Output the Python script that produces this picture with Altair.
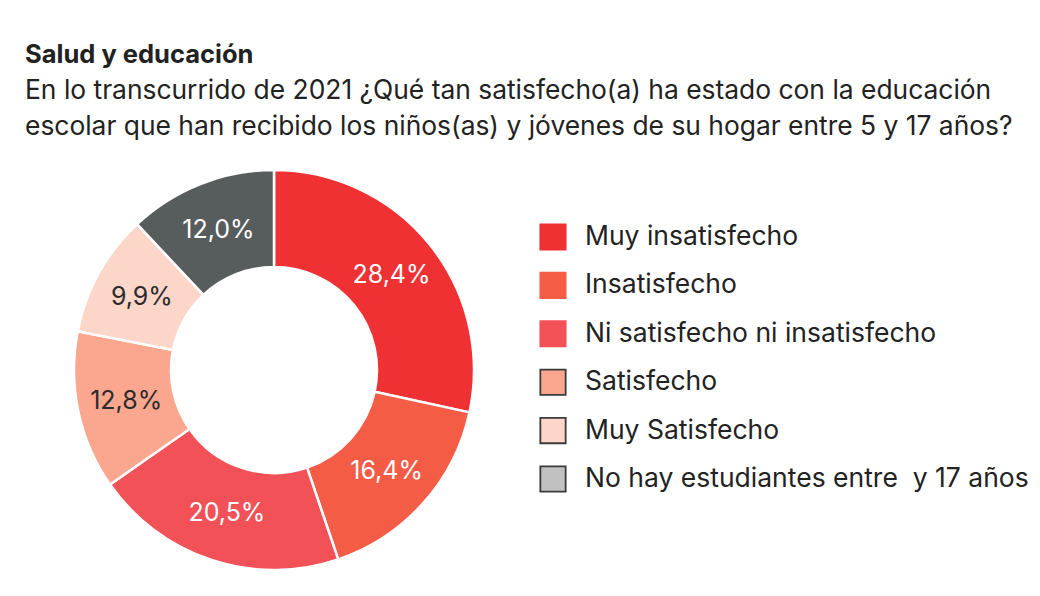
import altair as alt
import pandas as pd

categories = ["Muy insatisfecho", "Insatisfecho", "Ni satisfecho ni insatisfecho",
              "Satisfecho", "Muy Satisfecho", "No hay estudiantes entre  y 17 años"]
values = [28.4, 16.4, 20.5, 12.8, 9.9, 12.0]
slice_colors = ["#F03133", "#F45C46", "#F25157", "#FBA790", "#FDD6CA", "#575C5D"]
legend_colors = ["#F03133", "#F45C46", "#F25157", "#FBA790", "#FDD6CA", "#C1C1C1"]
legend_strokes = ["#F03133", "#F45C46", "#F25157", "#3a3a3a", "#3a3a3a", "#3a3a3a"]
label_colors = ["#FFFFFF", "#FFFFFF", "#FFFFFF", "#2b2b2b", "#2b2b2b", "#FFFFFF"]
title_text = "Salud y educación"
subtitle_lines = ["En lo transcurrido de 2021 ¿Qué tan satisfecho(a) ha estado con la educación",
                  "escolar que han recibido los niños(as) y jóvenes de su hogar entre 5 y 17 años?"]

FONT = "Inter"

df = pd.DataFrame({
    "cat": categories,
    # keep the double space visible in SVG
    "catshow": [c.replace("  ", " \u00a0") for c in categories],
    "val": values,
    "idx": list(range(len(categories))),
    "fill": slice_colors,
    "lfill": legend_colors,
    "lstroke": legend_strokes,
    "lcolor": label_colors,
    "label": [f"{v:.1f}%".replace(".", ",") for v in values],
})

cx, cy = 274, 370

base = alt.Chart(df).encode(
    theta=alt.Theta("val:Q", stack=True),
    order=alt.Order("idx:Q"),
)

arcs = base.mark_arc(innerRadius=103, outerRadius=200, stroke="white", strokeWidth=2.5).encode(
    color=alt.Color("fill:N", scale=None),
    x=alt.value(cx), y=alt.value(cy),
)

labels = base.mark_text(radius=151, font=FONT, fontSize=25).encode(
    text="label:N",
    color=alt.Color("lcolor:N", scale=None),
    x=alt.value(cx), y=alt.value(cy),
)

ly = alt.Y("idx:O", axis=None, scale=alt.Scale(range=[237, 479], padding=0))

leg_sq = alt.Chart(df).mark_square(size=640, strokeWidth=1.8, opacity=1).encode(
    x=alt.value(553),
    y=ly,
    fill=alt.Color("lfill:N", scale=None),
    stroke=alt.Color("lstroke:N", scale=None),
)

leg_txt = alt.Chart(df).mark_text(align="left", baseline="middle", font=FONT,
                                  fontSize=26.5, color="#222222").encode(
    x=alt.value(585),
    y=ly,
    text="catshow:N",
)

title_df = pd.DataFrame({"t": [title_text]})
title = alt.Chart(title_df).mark_text(align="left", baseline="alphabetic", font=FONT,
                                      fontSize=25.5, fontWeight="bold", color="#222222").encode(
    x=alt.value(25), y=alt.value(63), text="t:N")

sub_df = pd.DataFrame({"t": subtitle_lines, "i": [0, 1]})
subtitle = alt.Chart(sub_df).mark_text(align="left", baseline="alphabetic", font=FONT,
                                       fontSize=26.4, color="#222222").encode(
    x=alt.value(25),
    y=alt.Y("i:O", axis=None, scale=alt.Scale(range=[99, 135], padding=0)),
    text="t:N")

chart = alt.layer(arcs, labels, leg_sq, leg_txt, title, subtitle).resolve_scale(
    y="independent"
).properties(
    width=1040, height=596, autosize="none", padding=0, background="white"
).configure_view(stroke=None)

chart.save("out.html", embed_options={"renderer": "svg", "actions": False})
